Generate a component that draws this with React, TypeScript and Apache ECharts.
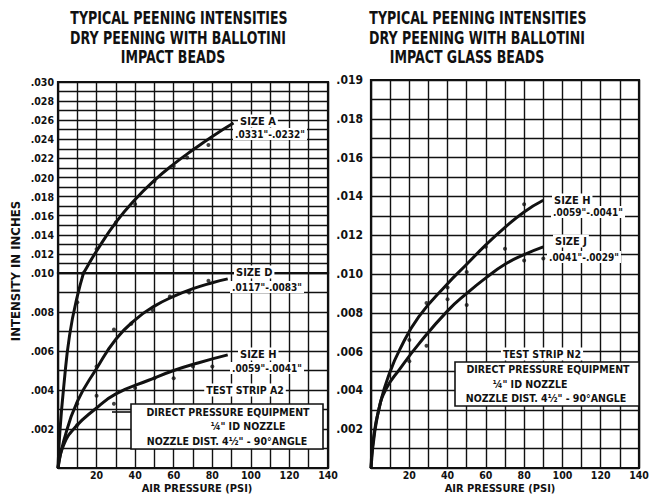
import React, { useEffect, useRef } from "react";
import * as echarts from "echarts";

// ---------- DATA ----------
const X_TICKS = [20, 40, 60, 80, 100, 120, 140];
const X_LABELS = ["20", "40", "60", "80", "100", "120", "140"];

const LEFT_Y_TICKS = [0.002, 0.004, 0.006, 0.008, 0.010, 0.012, 0.014, 0.016, 0.018, 0.020, 0.022, 0.024, 0.026, 0.028, 0.030];
const LEFT_Y_LABELS = [".002", ".004", ".006", ".008", ".010", ".012", ".014", ".016", ".018", ".020", ".022", ".024", ".026", ".028", ".030"];
const RIGHT_Y_TICKS = [0.002, 0.004, 0.006, 0.008, 0.010, 0.012, 0.014, 0.016, 0.018, 0.020];
const RIGHT_Y_LABELS = [".002", ".004", ".006", ".008", ".010", ".012", ".014", ".016", ".018", ".019"];

// Left chart (Ballotini impact beads) — curves
const L_A_PSI = [0, 1, 3, 6, 10, 15, 20, 30, 40, 50, 60, 70, 80, 91];
const L_A_VAL = [0, 0.0019, 0.0042, 0.0068, 0.0088, 0.0106, 0.0123, 0.0153, 0.0177, 0.0197, 0.0214, 0.0229, 0.0243, 0.0257];
const L_D_PSI = [0, 3, 10, 20, 30, 40, 50, 60, 70, 80, 88];
const L_D_VAL = [0, 0.0014, 0.0034, 0.0051, 0.0066, 0.0076, 0.0083, 0.0088, 0.0092, 0.0095, 0.0097];
const L_H_PSI = [0, 3, 9, 19, 30, 47, 60, 73, 88];
const L_H_VAL = [0, 0.0012, 0.0021, 0.0030, 0.0038, 0.0045, 0.0050, 0.0054, 0.0058];
// Left chart — measured points
const L_A_DOT_PSI = [10, 20, 30, 40, 50, 60, 67, 78];
const L_A_DOT_VAL = [0.0085, 0.0125, 0.0153, 0.0172, 0.0196, 0.0212, 0.0221, 0.0234];
const L_D_DOT_PSI = [10, 20, 29, 38, 49, 58, 68, 78];
const L_D_DOT_VAL = [0.0033, 0.0052, 0.0071, 0.0074, 0.0081, 0.0088, 0.0090, 0.0096];
const L_H_DOT_PSI = [10, 20, 29, 40, 50, 60, 70, 80];
const L_H_DOT_VAL = [0.0022, 0.0037, 0.0033, 0.0041, 0.0046, 0.0046, 0.0052, 0.0052];

// Right chart (Ballotini impact glass beads) — curves
const R_H_PSI = [0, 2, 5, 9, 15, 25, 40, 50, 60, 70, 80, 90];
const R_H_VAL = [0, 0.0019, 0.0034, 0.0047, 0.0061, 0.0078, 0.0095, 0.0105, 0.0115, 0.0124, 0.0132, 0.0138];
const R_J_PSI = [0, 1, 4, 8, 15, 25, 40, 50, 60, 70, 80, 90];
const R_J_VAL = [0, 0.0013, 0.0030, 0.0041, 0.0051, 0.0064, 0.0081, 0.0090, 0.0098, 0.0105, 0.0110, 0.0114];
// Right chart — measured points
const R_H_DOT_PSI = [20, 29, 40, 50, 60, 80];
const R_H_DOT_VAL = [0.0066, 0.0085, 0.0093, 0.0101, 0.0114, 0.0136];
const R_J_DOT_PSI = [20, 29, 40, 50, 70, 80, 90];
const R_J_DOT_VAL = [0.0055, 0.0063, 0.0087, 0.0084, 0.0113, 0.0107, 0.0108];

// ---------- HELPERS ----------
const FONT = "'DejaVu Sans Condensed', 'DejaVu Sans', sans-serif";
const INK = "#111";
const zip = (xs: number[], ys: number[]) => xs.map((x, i) => [x, ys[i]]);
const lookup = (ticks: number[], labels: string[], v: number) => {
  const i = ticks.findIndex((t) => Math.abs(t - v) < 1e-7);
  return i >= 0 ? labels[i] : "";
};

const xAxisBase = (gridIndex: number, showLabels: boolean) => ({
  type: "value",
  gridIndex,
  min: 0,
  max: 140,
  interval: 10,
  axisLine: { show: false },
  axisTick: { show: false },
  splitLine: { show: true, lineStyle: { color: INK, width: 1.4 } },
  axisLabel: {
    show: showLabels,
    margin: 2,
    color: INK,
    fontFamily: FONT,
    fontWeight: "bold",
    fontSize: 10.5,
    lineHeight: 10,
    formatter: (v: number) => lookup(X_TICKS, X_LABELS, v),
  },
});

const yAxisBase = (gridIndex: number, min: number, max: number, fmt: (v: number) => string, fontSize: number, margin: number) => ({
  type: "value",
  gridIndex,
  min,
  max,
  interval: 0.001,
  axisLine: { show: false },
  axisTick: { show: false },
  splitLine: { show: true, lineStyle: { color: INK, width: 1.4 } },
  axisLabel: {
    margin,
    color: INK,
    fontFamily: FONT,
    fontWeight: "bold",
    fontSize,
    showMinLabel: true,
    showMaxLabel: true,
    formatter: fmt,
  },
});

const curve = (xi: number, yi: number, data: number[][]) => ({
  type: "line",
  xAxisIndex: xi,
  yAxisIndex: yi,
  data,
  smooth: 0.5,
  showSymbol: false,
  clip: true,
  lineStyle: { color: INK, width: 3 },
  z: 5,
});

const dots = (xi: number, yi: number, data: number[][]) => ({
  type: "scatter",
  xAxisIndex: xi,
  yAxisIndex: yi,
  data,
  symbol: "circle",
  symbolSize: 4,
  clip: true,
  itemStyle: { color: INK },
  z: 6,
});

const txt = (text: string, x: number, y: number, opts: any = {}) => ({
  type: "text",
  x,
  y,
  z: 100,
  rotation: opts.rotation || 0,
  scaleX: opts.scaleX || 1,
  scaleY: opts.scaleY || 1,
  style: {
    text,
    fill: INK,
    font: `bold ${opts.size || 10}px ${FONT}`,
    textAlign: opts.align || "left",
    textVerticalAlign: "middle",
    backgroundColor: opts.bg ? "#fff" : undefined,
    padding: opts.bg ? [1, 2] : undefined,
  },
});

const rect = (x: number, y: number, w: number, h: number, stroke = true) => ({
  type: "rect",
  z: 90,
  shape: { x, y, width: w, height: h },
  style: { fill: "#fff", stroke: stroke ? INK : undefined, lineWidth: 1.6 },
});

const line = (x1: number, y1: number, x2: number, y2: number) => ({
  type: "line",
  z: 95,
  shape: { x1, y1, x2, y2 },
  style: { stroke: INK, lineWidth: 1.6 },
});

export default function App() {
  const ref = useRef<HTMLDivElement>(null);
  useEffect(() => {
    if (!ref.current) return;
    const chart = echarts.init(ref.current, null, { renderer: "svg" });

    const gridStyle = { show: true, borderColor: INK, borderWidth: 2.2, backgroundColor: "#fff" };
    const option: any = {
      animation: false,
      backgroundColor: "#fff",
      grid: [
        { left: 58, top: 273, width: 270, height: 195, ...gridStyle },
        { left: 58, top: 82, width: 270, height: 191, ...gridStyle },
        { left: 371, top: 80, width: 268, height: 388, ...gridStyle },
      ],
      xAxis: [xAxisBase(0, true), xAxisBase(1, false), xAxisBase(2, true)],
      yAxis: [
        yAxisBase(0, 0, 0.01, (v) => lookup(LEFT_Y_TICKS, LEFT_Y_LABELS, v), 10.5, 4),
        yAxisBase(1, 0.01, 0.03, (v) => (v > 0.0105 ? lookup(LEFT_Y_TICKS, LEFT_Y_LABELS, v) : ""), 10.5, 4),
        yAxisBase(2, 0, 0.02, (v) => lookup(RIGHT_Y_TICKS, RIGHT_Y_LABELS, v), 12, 8),
      ],
      series: [
        curve(0, 0, zip(L_A_PSI, L_A_VAL)),
        curve(1, 1, zip(L_A_PSI, L_A_VAL)),
        curve(0, 0, zip(L_D_PSI, L_D_VAL)),
        curve(0, 0, zip(L_H_PSI, L_H_VAL)),
        dots(0, 0, zip(L_A_DOT_PSI, L_A_DOT_VAL)),
        dots(1, 1, zip(L_A_DOT_PSI, L_A_DOT_VAL)),
        dots(0, 0, zip(L_D_DOT_PSI, L_D_DOT_VAL)),
        dots(0, 0, zip(L_H_DOT_PSI, L_H_DOT_VAL)),
        curve(2, 2, zip(R_H_PSI, R_H_VAL)),
        curve(2, 2, zip(R_J_PSI, R_J_VAL)),
        dots(2, 2, zip(R_H_DOT_PSI, R_H_DOT_VAL)),
        dots(2, 2, zip(R_J_DOT_PSI, R_J_DOT_VAL)),
      ],
      graphic: [
        // titles
        txt("TYPICAL PEENING INTENSITIES", 179, 18, { size: 14, align: "center", scaleY: 1.25 }),
        txt("DRY PEENING WITH BALLOTINI", 178, 38, { size: 14, align: "center", scaleY: 1.25 }),
        txt("IMPACT BEADS", 173, 57, { size: 14, align: "center", scaleY: 1.25 }),
        txt("TYPICAL PEENING INTENSITIES", 478, 18, { size: 14, align: "center", scaleY: 1.25 }),
        txt("DRY PEENING WITH BALLOTINI", 477, 38, { size: 14, align: "center", scaleY: 1.25 }),
        txt("IMPACT GLASS BEADS", 467, 57, { size: 14, align: "center", scaleY: 1.25 }),
        // axis titles
        txt("INTENSITY IN INCHES", 15, 271, { size: 13, align: "center", rotation: Math.PI / 2 }),
        txt("AIR PRESSURE (PSI)", 197, 488, { size: 11, align: "center" }),
        txt("AIR PRESSURE (PSI)", 500, 488, { size: 11, align: "center" }),
        // left curve labels
        txt("SIZE A", 238, 121, { size: 11, bg: true }),
        txt(".0331\"-.0232\"", 233, 134, { size: 10, bg: true }),
        txt("SIZE D", 234, 272, { size: 11, bg: true }),
        txt(".0117\"-.0083\"", 230, 287, { size: 10, bg: true }),
        txt("SIZE H", 238, 354, { size: 11, bg: true }),
        txt(".0059\"-.0041\"", 230, 368, { size: 10, bg: true }),
        // left annotation
        rect(131, 404, 192, 45),
        line(112, 412, 131, 412),
        txt("TEST STRIP A2", 245, 390, { size: 10.5, align: "center", bg: true }),
        txt("DIRECT PRESSURE EQUIPMENT", 228, 412, { size: 10.5, align: "center" }),
        txt("\u00BC\" ID NOZZLE", 248, 426, { size: 10.5, align: "center" }),
        txt("NOZZLE DIST. 4\u00BD\" - 90\u00B0ANGLE", 227, 441, { size: 10.5, align: "center" }),
        // right curve labels
        txt("SIZE H", 552, 200, { size: 11, bg: true }),
        txt(".0059\"-.0041\"", 551, 212, { size: 10, bg: true }),
        txt("SIZE J", 553, 241, { size: 11, bg: true }),
        txt(".0041\"-.0029\"", 547, 257, { size: 10, bg: true }),
        // right annotation
        rect(455, 362, 184, 44),
        txt("TEST STRIP N2", 542, 354, { size: 10.5, align: "center", bg: true }),
        txt("DIRECT PRESSURE EQUIPMENT", 548, 369, { size: 10.5, align: "center" }),
        txt("\u00BC\" ID NOZZLE", 530, 384, { size: 10.5, align: "center" }),
        txt("NOZZLE DIST. 4\u00BD\" - 90\u00B0ANGLE", 546, 398, { size: 10.5, align: "center" }),
      ],
    };
    chart.setOption(option);
    return () => chart.dispose();
  }, []);
  return <div ref={ref} style={{ position: "absolute", left: 0, top: 0, width: 654, height: 496 }} />;
}
